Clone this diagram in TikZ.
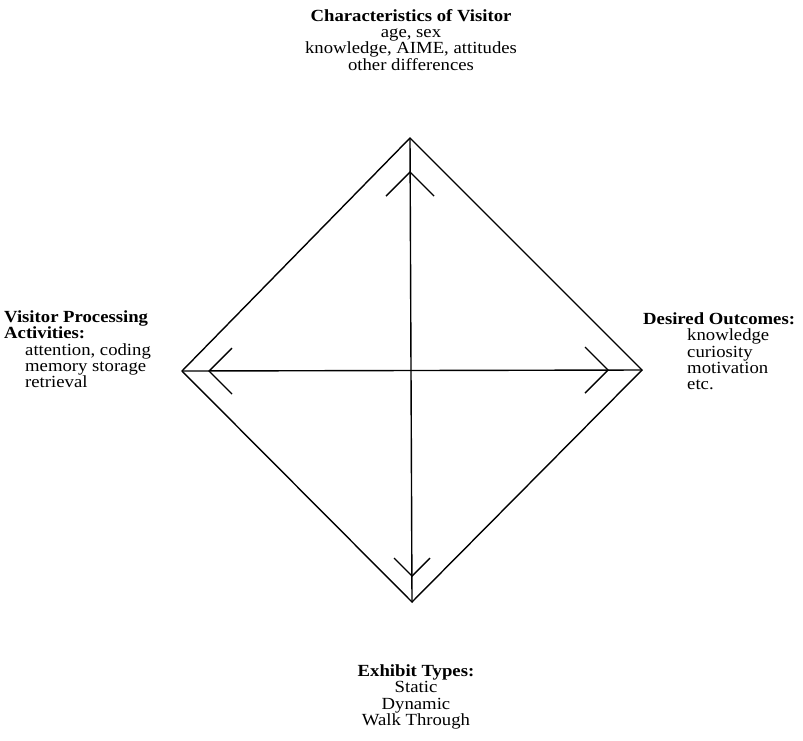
\documentclass[tikz,border=0pt]{standalone}
\usepackage{fontspec}
\setmainfont[FakeStretch=1.1]{Liberation Serif}
\begin{document}
\begin{tikzpicture}[x=1pt,y=-1pt,
  lbl/.style={inner sep=0pt,font=\fontsize{17}{16}\selectfont},
  hd/.style={lbl,font=\fontsize{17}{16}\selectfont\bfseries},
  edge/.style={line width=1.4pt,line join=miter},
  wing/.style={line width=1.4pt}]
\useasboundingbox (0,0) rectangle (803,740);
% diamond vertices
\coordinate (T) at (410,138);
\coordinate (R) at (642,370);
\coordinate (B) at (412,602);
\coordinate (L) at (182,371);
\draw[edge] (T) -- (R) -- (B) -- (L) -- cycle;
% axes
\draw[wing] (T) -- (B);
\draw[wing] (L) -- (R);
% arrowheads
\coordinate (ta) at (410,172); \coordinate (ta1) at (386,196); \coordinate (ta2) at (434,196);
\coordinate (ba) at (412,576); \coordinate (ba1) at (394,558); \coordinate (ba2) at (430,558);
\coordinate (la) at (209,371); \coordinate (la1) at (232,348); \coordinate (la2) at (232,394);
\coordinate (ra) at (608,370); \coordinate (ra1) at (585,347); \coordinate (ra2) at (585,393);
\draw[wing] (ta1) -- (ta) -- (ta2);
\draw[wing] (ba1) -- (ba) -- (ba2);
\draw[wing] (la1) -- (la) -- (la2);
\draw[wing] (ra1) -- (ra) -- (ra2);
% top text
\node[hd,anchor=base] (t0) at (411,21) {Characteristics of Visitor};
\node[lbl,anchor=base] (t1) at (411,37.3) {age, sex};
\node[lbl,anchor=base] (t2) at (411,53.6) {knowledge, AIME, attitudes};
\node[lbl,anchor=base] (t3) at (411,70) {other differences};
% left text
\node[hd,anchor=base west] (l0) at (4,322) {Visitor Processing};
\node[hd,anchor=base west] (l1) at (4,338.5) {Activities:};
\node[lbl,anchor=base west] (l2) at (25,355) {attention, coding};
\node[lbl,anchor=base west] (l3) at (25,371) {memory storage};
\node[lbl,anchor=base west] (l4) at (25,387) {retrieval};
% right text
\node[hd,anchor=base west] (r0) at (643,324) {Desired Outcomes:};
\node[lbl,anchor=base west] (r1) at (687,340.5) {knowledge};
\node[lbl,anchor=base west] (r2) at (687,357) {curiosity};
\node[lbl,anchor=base west] (r3) at (687,373) {motivation};
\node[lbl,anchor=base west] (r4) at (687,389.5) {etc.};
% bottom text
\node[hd,anchor=base] (b0) at (416,676) {Exhibit Types:};
\node[lbl,anchor=base] (b1) at (416,692.5) {Static};
\node[lbl,anchor=base] (b2) at (416,709) {Dynamic};
\node[lbl,anchor=base] (b3) at (416,725) {Walk Through};
\end{tikzpicture}
\end{document}
